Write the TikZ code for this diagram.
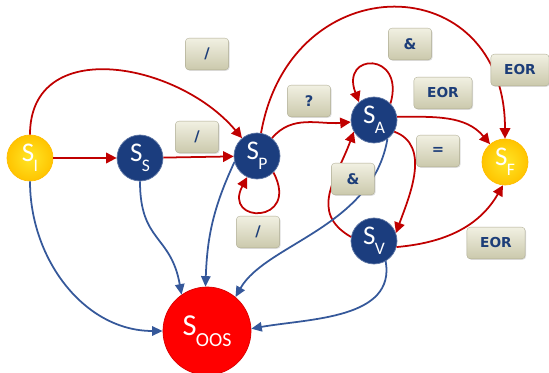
\documentclass[tikz,border=0pt]{standalone}
\usepackage{fontspec}
\setmainfont{Carlito}
\newfontfamily\tagfont{DejaVu Sans}
\usetikzlibrary{arrows.meta,shadows}

\definecolor{navy}{HTML}{1B3D7E}
\definecolor{gold}{HTML}{FFC400}
\definecolor{arcred}{HTML}{C00000}
\definecolor{arcblue}{HTML}{35589A}
\definecolor{tagtop}{HTML}{F1F0E2}
\definecolor{tagbot}{HTML}{CBC9AC}
\definecolor{tagtext}{HTML}{1C3D78}

\newcommand{\sname}[2][15]{S\kern-0.5pt\raisebox{-0.36em}{\fontsize{#1}{#1}\selectfont #2}}

\tikzset{
  stnode/.style={circle,minimum size=1.38cm,inner sep=0pt,text=white,
    font=\fontsize{23}{23}\selectfont},
  bluestate/.style={stnode,fill=navy,draw=navy!70!white,line width=0.6pt},
  goldstate/.style={stnode,inner color=gold!50!yellow!85!white,outer color=gold,
    draw=gold!90!orange,line width=0.6pt},
  oosstate/.style={stnode,minimum size=2.64cm,fill=red,draw=red!85!black,
    line width=0.6pt,font=\fontsize{26}{26}\selectfont},
  tag/.style={rounded corners=3pt,top color=tagtop,bottom color=tagbot,
    draw=tagbot!85!black,line width=0.3pt,minimum width=1.3cm,minimum height=0.95cm,
    text=tagtext,font=\tagfont\bfseries\fontsize{12.5}{13}\selectfont,
    drop shadow={opacity=0.25,shadow xshift=0.8pt,shadow yshift=-0.8pt}},
  eortag/.style={tag,minimum width=1.75cm,font=\tagfont\bfseries\fontsize{11.7}{12}\selectfont},
  redarc/.style={draw=arcred,line width=1.5pt,-{Triangle[length=9pt,width=9pt]}},
  bluearc/.style={draw=arcblue,line width=1.5pt,-{Triangle[length=9pt,width=8pt]}}
}

\begin{document}
\begin{tikzpicture}[x=0.03cm,y=0.03cm]
  \useasboundingbox (0,0) rectangle (549,-373);

  \node[goldstate] (I) at (30,-158) {\sname{I}};
  \node[bluestate] (S) at (140,-158) {\sname{S}};
  \node[bluestate] (P) at (257,-156) {\sname{P}};
  \node[bluestate] (A) at (374,-120) {\sname{A}};
  \node[bluestate] (V) at (374,-241) {\sname{V}};
  \node[goldstate] (F) at (505,-162) {\sname{F}};
  \node[oosstate] (O) at (207,-331) {\sname[17]{OOS}};

  \draw[redarc] (I) to[out=90,in=130,looseness=1.2] (P);
  \draw[redarc] (I) -- (S);
  \draw[redarc] (S) -- (P);
  \draw[redarc] (P) to[out=50,in=185] (A);
  \draw[redarc] (P.80) to[out=80,in=90,looseness=1.8] (F);
  \draw[redarc] (P.-45) .. controls +(27,-52) and +(-25,-47) .. (P.-115);
  \draw[redarc] (A.45) .. controls +(15,52) and +(-19,50) .. (A.130);
  \draw[redarc] (A.8) to[out=0,in=130] (F);
  \draw[redarc] (A.-30) to[out=-20,in=70] (V.20);
  \draw[redarc] (V.170) to[out=150,in=-110,looseness=1.2] (A.-150);
  \draw[redarc] (V.-15) to[out=5,in=-120] (F.-95);

  \draw[bluearc] (I) to[out=-90,in=180] (O);
  \draw[bluearc] (S) to[out=-90,in=100,looseness=1.3] (O.125);
  \draw[bluearc] (P.195) to[out=-115,in=88] (O.92);
  \draw[bluearc] (A.-55) .. controls +(-15,-88) and +(30,53) .. (O.50);
  \draw[bluearc] (V.-60) to[out=-80,in=10] (O.3);

  \foreach \n/\x/\y in {slashtop/207/-54,slashmid/197/-137,slashloop/258/-232}
    \node[tag] (\n) at (\x,\y) {/};
  \node[tag] (query) at (309,-101) {?};
  \node[tag] (andtop) at (410,-44) {\&};
  \node[tag] (equal) at (438,-151) {=};
  \node[tag] (andmid) at (353,-179) {\&};
  \foreach \n/\x/\y in {eormid/443/-93,eortop/520/-70,eorlow/496/-243}
    \node[eortag] (\n) at (\x,\y) {EOR};
\end{tikzpicture}
\end{document}
